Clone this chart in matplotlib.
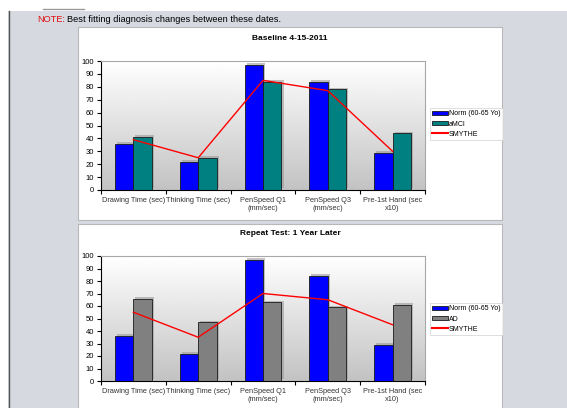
import numpy as np
import matplotlib.pyplot as plt
import matplotlib.patches as mpatches
import matplotlib.patheffects as pe
from matplotlib.lines import Line2D

plt.rcParams['font.family'] = ['Liberation Sans', 'DejaVu Sans']

# Data
categories = ['Drawing Time (sec)', 'Thinking Time (sec)', 'PenSpeed Q1\n(mm/sec)',
              'PenSpeed Q3\n(mm/sec)', 'Pre-1st Hand (sec\nx10)']
norm_vals = [36, 22, 97, 84, 29]
amci_vals = [41, 25, 84, 78, 44]
smythe_base = [39, 25, 85, 77, 30]
ad_vals = [66, 47, 63, 59, 61]
smythe_repeat = [55, 35, 70, 65, 45]

W, H = 567, 408
fig = plt.figure(figsize=(W / 100, H / 100), dpi=100)
fig.patch.set_facecolor('white')


def fx(px):
    return px / W


def fy(py):
    return 1 - py / H


# page background
fig.patches.append(mpatches.Rectangle((fx(8), 0), fx(W - 8), fy(11), transform=fig.transFigure,
                                      facecolor='#d6d9e0', edgecolor='none', zorder=-3))
fig.lines.append(Line2D([fx(8.5), fx(8.5)], [0, fy(11)], transform=fig.transFigure,
                        color='#555555', lw=1, zorder=-2))
fig.lines.append(Line2D([fx(43), fx(84)], [fy(9), fy(9)], transform=fig.transFigure,
                        color='#999999', lw=1, zorder=-2))

# white panels
for top, bot in [(27, 220), (224, 410)]:
    fig.patches.append(mpatches.Rectangle((fx(78), fy(bot)), fx(502 - 78), fy(top) - fy(bot),
                                          transform=fig.transFigure, facecolor='white',
                                          edgecolor='#b8b8b8', lw=0.8, zorder=-1))

fig.text(fx(37), fy(19), 'NOTE:', color='#e01010', fontsize=6.7, va='center')
fig.text(fx(67), fy(19), 'Best fitting diagnosis changes between these dates.', color='black',
         fontsize=6.7, va='center')

gradient = np.linspace(1, 0, 256).reshape(-1, 1)
x = np.arange(len(categories))
bw = 0.285


def draw_chart(top, bot, title, second, second_name, second_color, smythe, legend_top):
    ax = fig.add_axes([fx(101), fy(bot), fx(425 - 101), fy(top) - fy(bot)])
    ax.imshow(gradient, extent=[-0.5, 4.5, 0, 100], aspect='auto', cmap='gray',
              vmin=-3.2, vmax=1, zorder=0)
    shadow = [pe.SimplePatchShadow(offset=(1.5, 1.2), shadow_rgbFace='#999999', alpha=0.6), pe.Normal()]
    b1 = ax.bar(x - bw / 2, norm_vals, bw, color='#0000ff', edgecolor='#1a1a1a', lw=0.6, zorder=2)
    b2 = ax.bar(x + bw / 2, second, bw, color=second_color, edgecolor='#1a1a1a', lw=0.6, zorder=2)
    for b in list(b1) + list(b2):
        b.set_path_effects(shadow)
    ax.plot(x, smythe, color='red', lw=1, zorder=3)
    ax.set_xlim(-0.5, 4.5)
    ax.set_ylim(0, 100)
    ax.set_yticks(range(0, 101, 10))
    ax.tick_params(axis='y', labelsize=5.5, length=3, width=0.8, pad=2)
    ax.set_xticks(np.arange(-0.5, 5, 1))
    ax.set_xticklabels([])
    ax.tick_params(axis='x', which='major', length=3, width=0.8)
    ax.set_xticks(x, minor=True)
    ax.set_xticklabels(categories, minor=True, fontsize=5.3, color='#333333')
    ax.tick_params(axis='x', which='minor', length=0, pad=5)
    for s in ['top', 'right']:
        ax.spines[s].set_color('#a8a8a8')
    for s in ['left', 'bottom']:
        ax.spines[s].set_color('black')
        ax.spines[s].set_linewidth(0.8)
    fig.text(fx(290), fy(top - 22), title, fontsize=6, fontweight='bold', ha='center', va='center')
    handles = [mpatches.Patch(facecolor='#0000ff', edgecolor='#1a1a1a', lw=0.6),
               mpatches.Patch(facecolor=second_color, edgecolor='#1a1a1a', lw=0.6),
               Line2D([0], [0], color='red', lw=1.5)]
    leg = fig.legend(handles, ['Norm (60-65 Yo)', second_name, 'SMYTHE'], loc='upper left',
                     bbox_to_anchor=(fx(430), fy(legend_top)), fontsize=5.0, frameon=True,
                     fancybox=False, borderpad=0.35, handlelength=2.2, handleheight=0.6,
                     handletextpad=0.2, labelspacing=0.45, borderaxespad=0)
    leg.get_frame().set_edgecolor('#d0d0d0')
    leg.get_frame().set_linewidth(0.6)


draw_chart(61, 190, 'Baseline 4-15-2011', amci_vals, 'aMCI', '#008080', smythe_base, 108)
draw_chart(256, 381, 'Repeat Test: 1 Year Later', ad_vals, 'AD', '#808080', smythe_repeat, 303)

fig.savefig('out.png', dpi=100)
